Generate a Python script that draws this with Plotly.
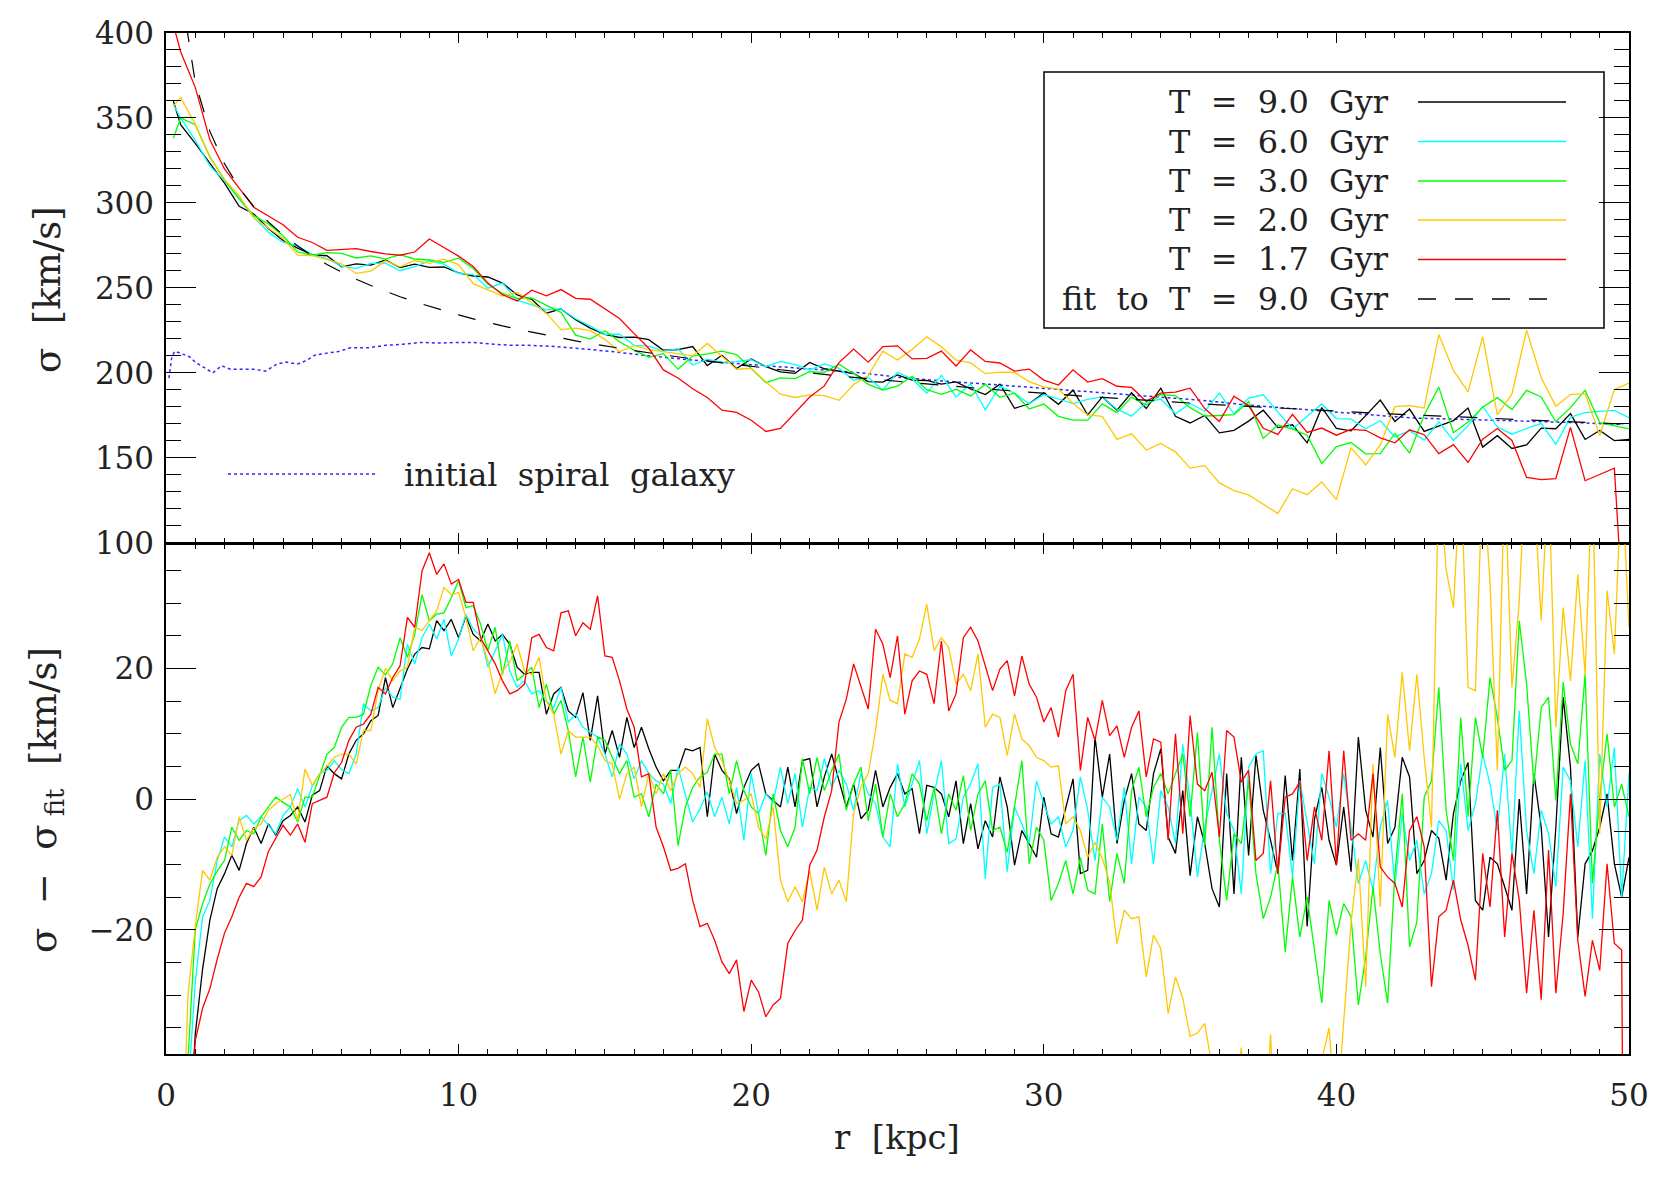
import numpy as np
import plotly.graph_objects as go
from plotly.subplots import make_subplots

# radial grids [kpc]
r_top = np.concatenate(([0.25], np.arange(1, 101) * 0.5))   # upper panel
r_res = np.arange(1, 201) * 0.25                              # residual panel

# fit to the T = 9.0 Gyr profile [km/s]
fit_t90 = [
    489.5, 426.2, 371,
    342.1, 323.0, 308.9, 297.8, 288.8, 281.2, 274.6, 268.9,
    263.8, 259.3, 255.1, 251.4, 247.9, 244.8, 241.8, 239.1,
    236.5, 234.1, 231.8, 229.6, 227.6, 225.7, 223.9, 222.1,
    220.5, 218.8, 217.3, 215.8, 214.4, 213.1, 211.8, 210.5,
    209.3, 208.1, 207.0, 205.9, 204.8, 203.8, 202.8, 201.8,
    200.9, 199.9, 199.0, 198.2, 197.3, 196.5, 195.7, 194.9,
    194.1, 193.4, 192.6, 191.9, 191.2, 190.5, 189.9, 189.2,
    188.6, 187.9, 187.3, 186.7, 186.1, 185.5, 184.9, 184.4,
    183.8, 183.3, 182.7, 182.2, 181.7, 181.2, 180.7, 180.2,
    179.7, 179.2, 178.8, 178.3, 177.8, 177.4, 177.0, 176.5,
    176.1, 175.7, 175.3, 174.9, 174.5, 174.1, 173.7, 173.3,
    172.9, 172.5, 172.1, 171.8, 171.4, 171.1, 170.7, 170.4,
    170.0, 169.7,
]

# velocity dispersion profiles, upper panel [km/s]
sig_t90 = [
    360, 346, 335,
    323.6, 311.6, 298, 293.5, 285, 277.9, 273.4, 269.5,
    268.9, 262.4, 264.1, 263.4, 266.5, 261.9, 264, 262.1,
    262.3, 258.8, 257, 256.4, 252.8, 245.9, 243.3, 235.1,
    237.6, 231.3, 226.3, 222.7, 220.8, 221, 219.5, 213.3,
    213.7, 215.5, 204.3, 210.3, 202.6, 208.2, 203.6, 200.6,
    199.7, 206.1, 202.4, 201, 199.6, 194.8, 194.5, 198.8,
    195.7, 195.5, 193.4, 194.7, 190.5, 187.2, 193.3, 179.1,
    181.8, 188.2, 181.5, 189.8, 175.2, 185.8, 178.1, 188.3,
    179, 191, 174.4, 170.5, 174.9, 164.7, 166.2, 171.6,
    178, 167.8, 169.4, 158.8, 179.6, 167.3, 165.9, 174.8,
    184, 171.4, 178.7, 165.5, 168.5, 171.9, 179.3, 156.3,
    163, 155.5, 157.6, 167.5, 167.1, 176, 160.8, 166.1,
    160.1, 160.8,
]
sig_t60 = [
    358, 350, 337,
    321.6, 313.2, 302.6, 291.5, 282.8, 276.7, 274.7, 269.4,
    267.2, 262.8, 261.5, 264.4, 264.5, 260.1, 262.5, 265.9,
    264, 258.6, 257.8, 249.8, 252.8, 242.8, 240, 237.1,
    237.6, 231.8, 227.5, 222.7, 222.8, 216.2, 215.7, 212.8,
    214.2, 204.6, 208.1, 206.2, 206.6, 207.7, 203.6, 206.7,
    204.8, 201.7, 205.2, 202.6, 195.6, 197.3, 189.9, 200.3,
    196.4, 188.1, 198.5, 185.8, 193.5, 178.3, 192.2, 188,
    181.8, 187.2, 184.6, 181.9, 184.4, 185.8, 178.6, 174.5,
    182.6, 184.6, 175.9, 182, 177.4, 188.1, 175.9, 185.1,
    187.1, 177, 166.9, 174.5, 181.7, 173.1, 172.7, 167.1,
    171.8, 162.3, 165.9, 160.4, 171.2, 160.2, 168.9, 180.2,
    168.1, 163.9, 167.3, 170.1, 158, 173.9, 176.6, 177.3,
    177.9, 173.6,
]
sig_t30 = [
    338, 350, 346,
    327.1, 313.6, 302.6, 292.5, 287.6, 280.7, 271.1, 269.2,
    270.7, 270.3, 267.6, 268.8, 266.9, 269.5, 267, 266.4,
    265, 267.5, 261.4, 252.3, 246.7, 243.8, 244.1, 239.7,
    235.6, 222.2, 219.9, 224.8, 218.3, 213.4, 209.1, 211.3,
    202.2, 209.9, 211.1, 212.8, 210.7, 202.6, 194.2, 197,
    196.6, 200.7, 200.3, 205.1, 199.6, 193.2, 189.9, 192.2,
    198, 190.1, 187.3, 190.2, 186.4, 193.3, 185.6, 188,
    178.7, 181.6, 174.4, 172.2, 172.2, 181.7, 176.6, 185.7,
    181.1, 187.2, 186.6, 179.5, 174.6, 174.9, 175.4, 183,
    161.4, 169.3, 166.9, 163.3, 146.6, 156.6, 159, 152.3,
    152.4, 164.3, 152.7, 175.2, 191.6, 164.7, 171, 179.7,
    185.4, 178.4, 189.7, 185.8, 171.2, 179.5, 189.8, 170.7,
    168.8, 167,
]
sig_t20 = [
    357, 362, 346.5,
    326.7, 313.7, 304.2, 291.3, 285.1, 279.2, 269.3, 269,
    266.8, 264.2, 258.5, 259.9, 265.9, 262.4, 266.1, 264.4,
    266.9, 263.7, 252.5, 248.8, 245.2, 247.4, 241, 235.1,
    225.4, 226.3, 224.8, 219.7, 212.4, 216, 213.7, 212.4,
    211.2, 210, 217.3, 209.8, 202.1, 202.6, 194.7, 187.4,
    185.5, 187, 186.6, 183.8, 193.1, 198.4, 212.8, 207.5,
    213.8, 221.2, 215.3, 207.5, 205.8, 199.5, 200.4, 200.2,
    194.8, 191.8, 190.4, 182, 175.2, 174.4, 160.8, 164.1,
    154.6, 158.4, 153.5, 143.9, 145.4, 135.2, 130.7, 128.2,
    122.7, 117.2, 131.8, 128.3, 135.8, 125.4, 156, 145.8,
    157.6, 180.1, 180.7, 179.3, 222.5, 201.4, 188.8, 221.3,
    175.3, 187.6, 225.1, 197.1, 180.4, 187.2, 187.8, 163.1,
    190.2, 194,
]
sig_t17 = [
    405, 389, 368,
    337.1, 320, 308.9, 297.4, 292.3, 287.2, 279.8, 276.7,
    272.1, 272.4, 273.1, 271.4, 270, 269.2, 271.1, 278.8,
    274, 268.7, 262.6, 252.8, 246, 242.3, 248.6, 245.3,
    249, 243.8, 243.3, 237.7, 232, 223.1, 214.5, 201.7,
    197, 190.6, 185.5, 178, 176.7, 172.1, 165.5, 167.3,
    176.8, 185.8, 192.3, 206, 214, 206.3, 215.4, 215.9,
    208.2, 208.5, 212.8, 204, 213.5, 206.7, 205.8, 201,
    202.2, 195.7, 192.8, 201.8, 194.6, 196.6, 192.1, 191.4,
    183.2, 188, 188.7, 191, 179, 171.4, 186.2, 180.6,
    167.4, 163.8, 175.6, 164.9, 167.5, 163.3, 166.7, 166.2,
    161.7, 158.8, 166.5, 163.6, 152.5, 157.7, 147.3, 161,
    167.2, 160.2, 138.4, 137.1, 137.7, 167.9, 136.5, 140.2,
    143.9, 0,
]

# initial spiral galaxy
r_init = [
    0.1, 0.2, 0.3, 0.5, 0.8, 1.0, 1.3, 1.6, 1.9, 2.2, 2.6, 3.0, 3.4, 3.8,
    4.1, 4.5, 4.8, 5.1, 5.5, 5.9, 6.3, 6.9, 7.5, 8.1, 8.7, 9.3, 9.9, 10.5,
    11.2, 11.8, 12.4, 13.1, 14, 15.2, 16.5, 18, 19.5, 20.6, 22, 23.75, 25,
    26.7, 28.6, 30.8, 32, 33.5, 35.3, 37, 39.2, 41, 42.6, 44.5, 46.5, 48, 49.8,
]
sig_init = [
    196.9, 209.5, 212.7, 211.6, 209.5, 206.3, 203.2, 200, 204.2, 202.1,
    202.1, 202.1, 201, 205.2, 206.3, 205.2, 207.3, 210.5, 211.6, 212.6,
    214.7, 214.7, 216.2, 216.8, 217.9, 217.5, 217.9, 217.9, 216.8, 216.2,
    216.2, 215.7, 214.5, 212.6, 210, 207.5, 205.5, 204, 202, 200,
    197.5, 195, 192.7, 190, 188.5, 186.3, 184, 181, 178, 175.5,
    173.4, 172.5, 171.7, 170.8, 169.6,
]

# residuals sigma - sigma_fit [km/s], one row per 3 kpc
res_t90 = [
    -130, -80, -55, -36, -26, -18.5, -13.7, -11.4, -8.6, -10.9, -6.8, -4.3,
    -6.8, -3.8, -5.5, -3.3, -2.5, -1.2, -3.5, 0.6, 1.3, 5.1, 3.9, 3.1,
    6.9, 9, 10, 12, 12.8, 18.6, 14, 17.1, 19.9, 22.2, 23.2, 23,
    27.3, 25.8, 27.5, 24.7, 28, 25.2, 24.2, 26.8, 24.2, 25.2, 23.7, 20.2,
    19.1, 19.4, 19.4, 13, 16.1, 17.1, 13.5, 12.5, 16.3, 9, 15.8, 6.9,
    10.5, 6.4, 12.5, 7.9, 11, 7.7, 4.9, 2.8, 4.4, 4.4, 7.7, 7.4,
    7.9, -2.7, 6.9, 4.4, 3.1, -2.2, 1.8, 4.4, 5.4, 0.8, -0.2, -1.2,
    4.9, -1.2, 5.9, 6.2, -1.2, 3.4, 6.9, 2.8, -1.2, 2.3, -3, -1.7,
    4.4, -1.2, 1.8, 3.9, 0.8, 1.6, -5.3, 2.1, 1.8, 0.8, -2.7, 2.8,
    -6.8, -0.7, -7.6, -3.3, -5.8, 3.4, -1.2, -10.1, -4.8, -6.8, -8.9, 0.3,
    -5.3, -5.8, -1.2, 3.1, -11.4, -10.9, 9.5, 0.3, 6.9, -6.8, -0.2, 3.9,
    -3.8, -4.8, 3.9, 7.7, -5.8, -8.3, 1.3, -11.7, -2.7, -6.8, -13.7, -16.5,
    3.9, -14.5, 6.4, -8.6, 6.7, -1.7, -6.3, -11.4, 3.6, -9.4, 4.6, -19.5,
    -3, 1.8, -6.3, -10.1, -1.2, -11.1, 9.5, -1.7, -5.8, 7.9, -6.8, -4.3,
    6.4, 3.4, -11.4, -9.4, -4.8, -6, -12.4, -2.2, 2.8, 5.6, -15.5, -17,
    -8.9, -9.9, -13.4, -17, 0, -14.5, 3.9, -4.3, -21.1, -4.3, 15.6, 4.9,
    -21.1, -9.9, -7.9, -4.3, 0.8, -9.9, -15, -8.9,
]
res_t60 = [
    -131, -76, -45, -28, -18, -15.5, -9.4, -5.8, -7.3, -3.3, -2.5, -3.8,
    -2.7, -4, -5.3, -2.5, -1.2, 1.6, -1.2, 2, 3.9, 4.4, 5.9, 4.5,
    3.9, 6.9, 14.6, 13.5, 14, 17.1, 15.6, 15.3, 23.7, 20.7, 24.7, 26.8,
    24.5, 27.5, 21.9, 24.5, 28.3, 26, 25, 20.2, 22.7, 25.2, 19.6, 17.1,
    18.1, 16.1, 16.6, 15, 14, 17.1, 11.8, 13, 11, 10.2, 9.5, 6.9,
    3.4, 8.4, 6.9, 3.1, 5.9, 3.9, 2.8, 2.3, -0.7, 4.9, 0.5, -3.5,
    -1.5, 1.1, -2.7, 0.3, -3.8, 1.8, -6.3, 3.9, -2.2, 0.8, -0.5, 4.9,
    -0.7, 3.9, -4.3, 1.8, 1.3, 6.2, 1.8, 4.4, 2.3, -1.7, 3.9, 0.8,
    -0.7, -5.8, -7.3, 5.4, -1.2, 2.3, 5.9, -5.3, 0.8, 5.9, -6.8, -6.1,
    0.3, 2.3, 5.4, -12.2, 1.8, 2.3, -11.1, -1.2, -3.8, -6.8, 2.8, -0.7,
    -3.8, -2.7, -7.3, -4.8, 3.4, -1.7, -9.4, 0.3, -1.2, -6.3, 1.8, -9.9,
    0.3, -1.2, -9.9, 1.3, -1.2, -6.8, 8.4, -0.2, -11.9, -4.3, 1.3, 6.9,
    -2.2, -4.8, -14.5, 4.9, 6.9, 7.4, -11.4, -2.2, -2.2, -11.9, 2.8, -3.8,
    -9.9, 3.9, 0.3, -4.3, 3.9, -4.3, -12.9, -9.4, -13.9, -4.3, -0.2, -13.4,
    -2.2, -9.4, -6.3, -14.5, -11.4, -3.3, -4.8, -13.9, 5.4, -4.8, -0.7, 6.9,
    2.3, -4.8, 6.9, -8.6, 13.5, -4.8, -11.4, -1.7, -5.3, -13.4, 4.9, 2.8,
    -7.3, 5.9, -18.3, 6.9, -1.2, 7.9, -15, 3.9,
]
res_t30 = [
    -151, -76, -40, -20, -16, -13, -11, -9.4, -4.3, -6.3, -4.8, -5.3,
    -2.7, -1.2, 0.3, -0.5, -1.2, -3.5, 0.3, 0.3, 3.5, 6.9, 7.9, 11,
    12.5, 12.5, 13, 17.4, 20.2, 19, 20.7, 24.7, 21.7, 25.2, 31.3, 27.3,
    28.3, 28.5, 30.8, 33.4, 29.3, 29.6, 26.8, 22.7, 26.3, 19.1, 24.2, 18.1,
    19.1, 20.2, 14, 17.6, 13, 15.1, 10.5, 3.4, 9.5, 2.6, 9.5, 9,
    6.4, 3.9, 5.9, 0.3, 0.8, -2.7, 2.3, 0.8, 4.4, -7.1, -1.2, 1.8,
    3.4, 4.1, 6.9, 6.9, 0.8, 5.9, 1.3, -1.2, -2.2, -8.6, 0.8, -4.8,
    -7.3, -4.3, 6.2, 0.8, 6.4, 1.3, 4.4, 6.9, -1.7, 2.3, 4.9, -3.3,
    2.3, -5.8, 0.8, -2.7, -0.7, 3.9, 2.3, -3.3, 1.8, -5.3, 0.8, -1.7,
    3.6, -4.8, 0.8, 2.8, -4.8, -4.3, -8.1, -1.2, 5.9, -9.9, -4.3, -6.3,
    -15.5, -12.9, -9.4, -14.5, -8.9, -13.9, -14.5, -3.8, -15.7, -8.3, -12.9, 1.3,
    4.9, -2.7, 1.8, 3.9, 0.8, 3.9, 6.9, -2.7, 10.2, -7.1, 11, -6.3,
    -15.5, -5.3, -6.8, 2.8, -11.4, -18.3, -15, -9.9, -23.4, -11.9, -21.1, -15,
    -22.9, -31.2, -15.5, -20.8, -16, -18, -31.5, -24.2, -13.4, -23.7, -31.2, -11.4,
    0.8, -22.6, -18.8, 0.3, 2.8, 17.1, -1.7, -9.4, 12.5, -2.7, 12.5, 6.4,
    18.6, 12.5, 4.4, 5.9, 27.3, 17.6, 2.3, 14, 15.6, -0.2, 17.9, 8.4,
    5.4, 19.1, -12.9, 0.3, 10, -1.2, 2.3, -2.7,
]
res_t20 = [
    -132, -64, -30, -19.5, -10.9, -12.4, -8.9, -7.3, -8.6, -2.7, -6.3, -4.5,
    -3.8, -1.7, -0.7, 0, 0.7, -3.3, 4.6, 2.1, 3.9, 5, 6.4, 6.9,
    6.9, 5.4, 10.5, 10.5, 16.6, 20, 18.1, 19.6, 20.2, 26.3, 25.8, 27.3,
    28.8, 32.4, 31.3, 31.6, 27.8, 22.7, 24.7, 21.2, 16.1, 19.6, 21, 23.7,
    19.6, 19.1, 21.7, 15, 13, 6.9, 10.5, 9.5, 9.5, 9.5, 8.2, 5.9,
    5.4, 0, 3.9, 4.9, -1.2, 3.9, 0.8, 3.9, 1.3, 3.9, 4.9, 3.9,
    1.8, 12.3, 7.9, 5.9, 2.8, -0.7, -0.2, 0.8, -4.3, -6.1, -1.2, -12.4,
    -15.7, -13.4, -15.7, -10.9, -17, -10.4, -14.5, -12.4, -15.7, -2.2, 1.8, 3.9,
    10.5, 19.1, 15.1, 14.6, 22.2, 21.7, 24.5, 29.8, 22.7, 24.7, 23.2, 17.6,
    19.1, 16.6, 22.2, 11, 13, 12.5, 6.7, 13, 9.2, 8.2, 6.4, 5.9,
    4.9, 5.1, -3.8, -2.7, -4.8, -8.9, -6.6, -9.1, -12.7, -22.1, -17, -18.3,
    -18, -27.2, -20.8, -22.9, -32.8, -27.2, -30.5, -36.3, -35.8, -34.3, -41, -44,
    -46, -48, -38, -50, -52, -55, -36, -60, -50, -45, -42, -48,
    -52, -40, -35, -50, -34, -19, -9.1, -28.7, 5.4, -16.5, 13, 6.4,
    19.4, 7.4, 19.1, 6.4, -4.3, 50, 35.1, 29.3, 50, 17.1, 16.6, 50,
    33.1, 4.4, 50, 17.1, 30.3, 55, 48, 27.3, 50, 11, 29.3, 18.1,
    34.4, 19.1, 50, -5.3, 31.9, 22.2, 50, 26.3,
]
res_t17 = [
    -100, -75, -52, -37, -32, -29, -24.5, -20.5, -18, -15, -12.9, -13.4,
    -11.9, -8, -6.1, -4, -5.5, -3.8, -6.6, -0.7, -0.2, 0.3, 4, 5.6,
    9, 11, 11.5, 13, 17.1, 16.1, 18.6, 20.4, 27.8, 26.3, 34.9, 37.7,
    34.4, 36, 32.9, 33.6, 30.1, 30.1, 24.7, 22.7, 20.7, 18.1, 16.1, 16.6,
    17.6, 24.7, 25.2, 23.2, 22.7, 28.5, 28.8, 25, 27, 26, 31.1, 21.9,
    21.7, 18.1, 13.8, 11, 3.4, 3.9, -4.3, -7.3, -10.9, -10.6, -9.9, -15.5,
    -19.5, -19, -21.6, -24.9, -26.7, -24.6, -32.5, -27.7, -29.5, -33.3, -31.5, -30.5,
    -22.1, -20.1, -18.5, -10.1, -7.8, -2.7, 1.3, 11.8, 15.3, 20.7, 17.1, 13.8,
    26, 23.7, 18.6, 25, 13, 18.1, 19.6, 19.1, 14.6, 24.2, 13.5, 16.1,
    24.7, 26.3, 24.2, 20.2, 16.6, 19.9, 21.2, 15.8, 21.9, 17.6, 15.6, 11.8,
    14, 9.5, 16.6, 19.1, 4.4, 12.5, 9, 15.1, 9.7, 11.2, 6.4, 11,
    13.5, 3.4, 9.2, 8.7, -6.3, 10, -5.3, 12.8, 2.3, 1.3, 4.1, -5.8,
    10.5, 9.5, 2.6, 4.4, -9.4, -8.3, 2.8, -11.4, 0.3, 0.8, 2.6, -9.4,
    -1.2, -6.3, 7.4, -10.1, 7.4, -6.3, -5.3, -6.3, 3.9, -10.4, -11.9, -12.9,
    -16.5, -4.8, -2.7, -7.3, -28.7, -18, -17, -12.4, -18.5, -22.4, -27.7, -8.3,
    -16.5, -1.7, -21.1, -8.3, -15.5, -29.7, -17, -30.7, -7.8, -29.7, -17.5, 0.8,
    -21.6, -30.2, -21.6, -26.2, -9.9, -22.1, -23.1, -200,
]

labels = ["T = 9.0 Gyr", "T = 6.0 Gyr", "T = 3.0 Gyr", "T = 2.0 Gyr", "T = 1.7 Gyr"]
colors = ["#000000", "#00ffff", "#00ff00", "#ffc800", "#ff0000"]
top_series = [sig_t90, sig_t60, sig_t30, sig_t20, sig_t17]
res_series = [res_t90, res_t60, res_t30, res_t20, res_t17]

for s in top_series + [fit_t90]:
    if len(s) != len(r_top):
        raise ValueError(f"top length {len(s)} != {len(r_top)}")
for s in res_series:
    if len(s) != len(r_res):
        raise ValueError(f"res length {len(s)} != {len(r_res)}")

FONT = "DejaVu Serif"
OFF = 8                      # page body margin around the figure div
W, H = 1645, 1170
ML, MR, MT, MB = 158, 24, 25, 124
PW, PH = W - ML - MR, H - MT - MB


# helpers: screen pixel -> paper coordinate
def px(x):
    return (x - OFF - ML) / PW


def py(y):
    return (H - MB - (y - OFF)) / PH


def sp(text):
    return text.replace(" ", "\u00a0\u00a0")


fig = make_subplots(rows=2, cols=1, shared_xaxes=True, vertical_spacing=1.5 / PH)

fig.add_trace(go.Scatter(x=r_init, y=sig_init, mode="lines",
                         line=dict(color="#2b2bff", width=1.5, dash="dot")), row=1, col=1)
for sig, col in zip(top_series, colors):
    fig.add_trace(go.Scatter(x=r_top, y=sig, mode="lines",
                             line=dict(color=col, width=1.3)), row=1, col=1)
fig.add_trace(go.Scatter(x=r_top, y=fit_t90, mode="lines",
                         line=dict(color="#000000", width=1.2, dash="18px,18px")), row=1, col=1)

fig.add_hline(y=0, row=2, col=1, line=dict(color="#555555", width=2, dash="18px,16px"))
for res, col in zip(res_series, colors):
    fig.add_trace(go.Scatter(x=r_res, y=res, mode="lines",
                             line=dict(color=col, width=1.3)), row=2, col=1)

axis_common = dict(showgrid=False, zeroline=False, showline=True, linecolor="#000000",
                   linewidth=1.5, mirror="allticks", ticks="inside", tickcolor="#000000",
                   tickwidth=1.3, automargin=False,
                   tickfont=dict(family=FONT, size=31, color="#222222"))
fig.update_xaxes(range=[0, 50], tick0=0, dtick=10, ticklen=10,
                 minor=dict(ticks="inside", dtick=1, ticklen=5, tickcolor="#000000", tickwidth=1.2),
                 **axis_common)
fig.update_xaxes(showticklabels=False, row=1, col=1)
fig.update_xaxes(showticklabels=True, ticklabelstandoff=13, row=2, col=1)
fig.update_yaxes(range=[100, 400], tick0=100, dtick=50, ticklen=30, ticklabelstandoff=4,
                 minor=dict(ticks="inside", dtick=10, ticklen=15, tickcolor="#000000", tickwidth=1.2),
                 row=1, col=1, **axis_common)
fig.update_yaxes(range=[-39, 39], tick0=0, dtick=20, ticklen=30, ticklabelstandoff=4,
                 minor=dict(ticks="inside", dtick=5, ticklen=15, tickcolor="#000000", tickwidth=1.2),
                 row=2, col=1, **axis_common)

# legend box (drawn by hand: sample lines sit right of the labels)
shapes = [dict(type="rect", xref="paper", yref="paper", x0=px(1044), x1=px(1604),
               y0=py(328), y1=py(72), line=dict(color="#000000", width=1.5))]
annotations = []
rows_y = [102, 141.5, 181, 220, 259.5, 299]
for lab, col, yy in zip(labels, colors, rows_y):
    shapes.append(dict(type="line", xref="paper", yref="paper", x0=px(1418), x1=px(1566),
                       y0=py(yy), y1=py(yy), line=dict(color=col, width=1.5)))
    annotations.append(dict(text=sp(lab), xref="paper", yref="paper", x=px(1391), y=py(yy),
                            xanchor="right", yanchor="middle", showarrow=False,
                            font=dict(family=FONT, size=32, color="#222222")))
shapes.append(dict(type="line", xref="paper", yref="paper", x0=px(1418), x1=px(1548),
                   y0=py(rows_y[-1]), y1=py(rows_y[-1]),
                   line=dict(color="#000000", width=1.5, dash="18px,19px")))
annotations.append(dict(text=sp("fit to T = 9.0 Gyr"), xref="paper", yref="paper",
                        x=px(1391), y=py(rows_y[-1]), xanchor="right", yanchor="middle",
                        showarrow=False, font=dict(family=FONT, size=32, color="#222222")))

# initial galaxy label
shapes.append(dict(type="line", xref="paper", yref="paper", x0=px(228), x1=px(377),
                   y0=py(474), y1=py(474), line=dict(color="#2b2bff", width=1.5, dash="dot")))
annotations.append(dict(text=sp("initial spiral galaxy"), xref="paper", yref="paper",
                        x=px(402), y=py(475), xanchor="left", yanchor="middle",
                        showarrow=False, font=dict(family=FONT, size=32, color="#222222")))

# axis titles
annotations.append(dict(text=sp("r [kpc]"), xref="paper", yref="paper", x=px(897), y=py(1137),
                        xanchor="center", yanchor="middle", showarrow=False,
                        font=dict(family=FONT, size=34, color="#222222")))
annotations.append(dict(text=sp("σ [km/s]"), xref="paper", yref="paper", x=px(48), y=py(290),
                        xanchor="center", yanchor="middle", textangle=-90, showarrow=False,
                        font=dict(family=FONT, size=37, color="#222222")))
annotations.append(dict(text="σ\u00a0\u00a0−\u00a0\u00a0σ<sub>\u00a0fit</sub>\u00a0\u00a0[km/s]",
                        xref="paper", yref="paper", x=px(46), y=py(800),
                        xanchor="center", yanchor="middle", textangle=-90, showarrow=False,
                        font=dict(family=FONT, size=37, color="#222222")))

fig.update_layout(width=W, height=H, margin=dict(l=ML, r=MR, t=MT, b=MB, autoexpand=False),
                  paper_bgcolor="white", plot_bgcolor="white", showlegend=False,
                  font=dict(family=FONT, color="#222222"),
                  shapes=shapes, annotations=annotations)

fig.write_html("out.html")
